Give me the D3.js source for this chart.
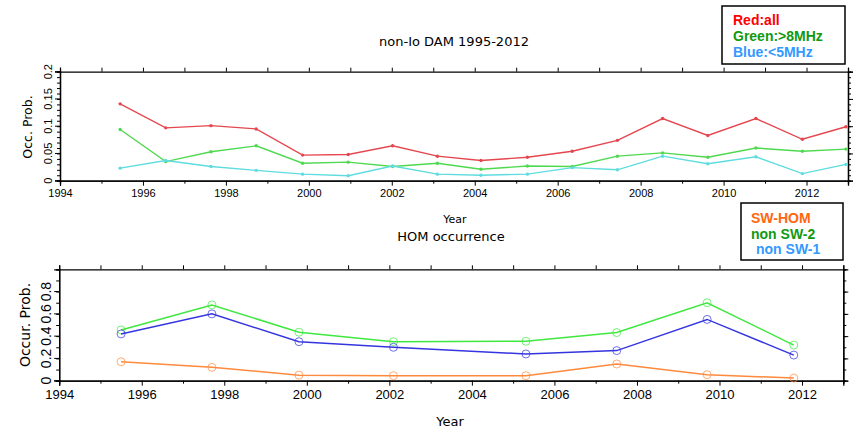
<!DOCTYPE html>
<html>
<head>
<meta charset="utf-8">
<script src="https://cdn.jsdelivr.net/npm/d3@7"></script>
<style>
  body { margin: 0; background: #fff; }
  svg { display: block; font-family: "DejaVu Sans", sans-serif; }
  .axis path, .axis line { stroke: #000; }
</style>
</head>
<body>
<svg id="chart" width="863" height="429"></svg>
<script>
// top panel: non-Io DAM, Jupiter apparitions
const yearsTop = [1995.45, 1996.55, 1997.64, 1998.73, 1999.85, 2000.95, 2002.02, 2003.1, 2004.15,
                  2005.27, 2006.35, 2007.44, 2008.53, 2009.62, 2010.78, 2011.9, 2012.95];
const redAll = [0.141, 0.097, 0.101, 0.095, 0.047, 0.048, 0.064, 0.045, 0.037,
                0.043, 0.054, 0.074, 0.114, 0.083, 0.114, 0.076, 0.099];
const greenHigh = [0.094, 0.035, 0.053, 0.064, 0.032, 0.034, 0.026, 0.032, 0.021,
                   0.027, 0.026, 0.045, 0.051, 0.043, 0.060, 0.054, 0.058];
const blueLow = [0.023, 0.037, 0.026, 0.019, 0.012, 0.009, 0.027, 0.012, 0.010,
                 0.012, 0.024, 0.020, 0.045, 0.031, 0.044, 0.013, 0.030];

// bottom panel: HOM occurrence
const yearsBot = [1995.5, 1997.7, 1999.81, 2002.1, 2005.31, 2007.51, 2009.7, 2011.8];
const swHom = [0.17, 0.12, 0.05, 0.045, 0.045, 0.15, 0.054, 0.024];
const nonSw2 = [0.456, 0.68, 0.435, 0.35, 0.354, 0.432, 0.70, 0.32];
const nonSw1 = [0.42, 0.60, 0.35, 0.30, 0.24, 0.27, 0.55, 0.23];

const topTicks = [0, 0.05, 0.1, 0.15, 0.2];
const botTicks = [0, 0.2, 0.4, 0.6, 0.8];

const svg = d3.select("#chart");

function drawPanel(opt) {
    const x = d3.scaleLinear().domain([1994, 2013]).range([opt.x0, opt.x1]);
    const y = d3.scaleLinear().domain([0, opt.yMax]).range([opt.y0, opt.y1]);
    const g = svg.append("g");

    // frame axes, ticks outward
    const bottom = g.append("g").attr("class", "axis")
        .attr("transform", `translate(0,${opt.y0})`)
        .call(d3.axisBottom(x).tickValues(d3.range(1994, 2013, 2)).tickFormat(d3.format("d"))
            .tickSize(5).tickPadding(4));
    bottom.selectAll("text").style("font-size", opt.xFont + "px").attr("fill", "#000");
    g.append("g").attr("class", "axis")
        .attr("transform", `translate(0,${opt.y0})`)
        .call(d3.axisBottom(x).tickValues(d3.range(1995, 2014, 2)).tickFormat("").tickSize(3));
    g.append("g").attr("class", "axis")
        .attr("transform", `translate(0,${opt.y1})`)
        .call(d3.axisTop(x).tickValues(d3.range(1994, 2014, 1)).tickFormat("")
            .tickSize(4));

    const left = g.append("g").attr("class", "axis")
        .attr("transform", `translate(${opt.x0},0)`)
        .call(d3.axisLeft(y).tickValues(opt.ticks).tickFormat(d => d === 0 ? "0" : String(d))
            .tickSize(5).tickPadding(3));
    left.selectAll("text")
        .style("font-size", opt.yFont + "px")
        .attr("fill", "#000")
        .attr("transform", d => `rotate(-90, ${-8}, ${y(d)})`)
        .attr("x", -8).attr("dy", "0")
        .attr("y", d => y(d))
        .attr("text-anchor", "middle");
    left.selectAll(".tick").attr("transform", null).each(function(d) {
        d3.select(this).select("line").attr("y1", y(d)).attr("y2", y(d));
    });
    g.append("g").attr("class", "axis")
        .attr("transform", `translate(${opt.x0},0)`)
        .call(d3.axisLeft(y).tickValues(d3.range(0, opt.yMax + 1e-9, opt.minor)).tickFormat("").tickSize(3));
    g.append("g").attr("class", "axis")
        .attr("transform", `translate(${opt.x1},0)`)
        .call(d3.axisRight(y).tickValues(d3.range(0, opt.yMax + 1e-9, opt.minor)).tickFormat("")
            .tickSize(3));
    g.append("g").attr("class", "axis")
        .attr("transform", `translate(${opt.x1},0)`)
        .call(d3.axisRight(y).tickValues(opt.ticks).tickFormat("").tickSize(5));

    g.selectAll(".axis path").attr("stroke-width", 1.3);

    // labels
    g.append("text").attr("x", opt.titleX).attr("y", opt.titleY)
        .attr("text-anchor", "middle").style("font-size", opt.titleFont + "px")
        .text(opt.title);
    g.append("text").attr("x", opt.yearX).attr("y", opt.yearY)
        .attr("text-anchor", "middle").style("font-size", opt.xFont + "px")
        .text("Year");
    g.append("text")
        .attr("transform", `translate(${opt.ylabX},${opt.ylabY}) rotate(-90)`)
        .attr("text-anchor", "middle").attr("dy", "0.35em")
        .style("font-size", opt.ylabFont + "px")
        .text(opt.ylab);

    const line = d3.line().x(d => x(d[0])).y(d => y(d[1]));
    opt.series.forEach(s => {
        const pts = opt.years.map((yr, i) => [yr, s.values[i]]);
        g.append("path").datum(pts)
            .attr("fill", "none").attr("stroke", s.color)
            .attr("stroke-width", opt.lw).attr("d", line);
        g.selectAll(null).data(pts).enter().append("circle")
            .attr("cx", d => x(d[0])).attr("cy", d => y(d[1]))
            .attr("r", opt.r)
            .attr("fill", opt.open ? "none" : s.color)
            .attr("stroke", s.color).attr("stroke-width", opt.open ? 1 : 0)
            .attr("opacity", opt.open ? 0.7 : 1);
    });
}

drawPanel({
    x0: 60, x1: 848, y0: 180.7, y1: 71.7, yMax: 0.2, ticks: topTicks, minor: 0.01,
    xFont: 11, yFont: 11, titleFont: 13, ylabFont: 12.5,
    title: "non-Io DAM 1995-2012", titleX: 454, titleY: 46,
    yearX: 455, yearY: 223, ylab: "Occ. Prob.", ylabX: 28, ylabY: 127,
    years: yearsTop, lw: 1.4, r: 1.7, open: false,
    series: [
        { values: redAll, color: "#e5474f" },
        { values: greenHigh, color: "#4fd94f" },
        { values: blueLow, color: "#5fdcdf" }
    ]
});

drawPanel({
    x0: 59.2, x1: 843.3, y0: 380.7, y1: 269.3, yMax: 1, ticks: botTicks, minor: 0.1,
    xFont: 13, yFont: 14, titleFont: 13, ylabFont: 14,
    title: "HOM occurrence", titleX: 451, titleY: 241,
    yearX: 450, yearY: 426, ylab: "Occur. Prob.", ylabX: 25, ylabY: 325,
    years: yearsBot, lw: 1.5, r: 4, open: true,
    series: [
        { values: swHom, color: "#ff8a3d" },
        { values: nonSw2, color: "#3fe83f" },
        { values: nonSw1, color: "#3535e0" }
    ]
});

// legend boxes
function legend(x, y, w, h, items) {
    svg.append("rect").attr("x", x).attr("y", y).attr("width", w).attr("height", h)
        .attr("fill", "#fff").attr("stroke", "#000").attr("stroke-width", 1.5);
    items.forEach(it => {
        svg.append("text").attr("x", it.x).attr("y", it.y)
            .attr("fill", it.color)
            .style("font-family", "'Liberation Sans', Arial, sans-serif")
            .style("font-weight", "bold").style("font-size", "14px")
            .text(it.text);
    });
}
legend(722, 6, 123, 58, [
    { text: "Red:all", color: "#ff0000", x: 733, y: 25 },
    { text: "Green:>8MHz", color: "#119911", x: 733, y: 41 },
    { text: "Blue:<5MHz", color: "#3399ff", x: 733, y: 57 }
]);
legend(741, 203, 102, 57, [
    { text: "SW-HOM", color: "#ff6611", x: 751, y: 223 },
    { text: "non SW-2", color: "#119911", x: 751, y: 239 },
    { text: "non SW-1", color: "#3399ff", x: 756, y: 254 }
]);
</script>
</body>
</html>
